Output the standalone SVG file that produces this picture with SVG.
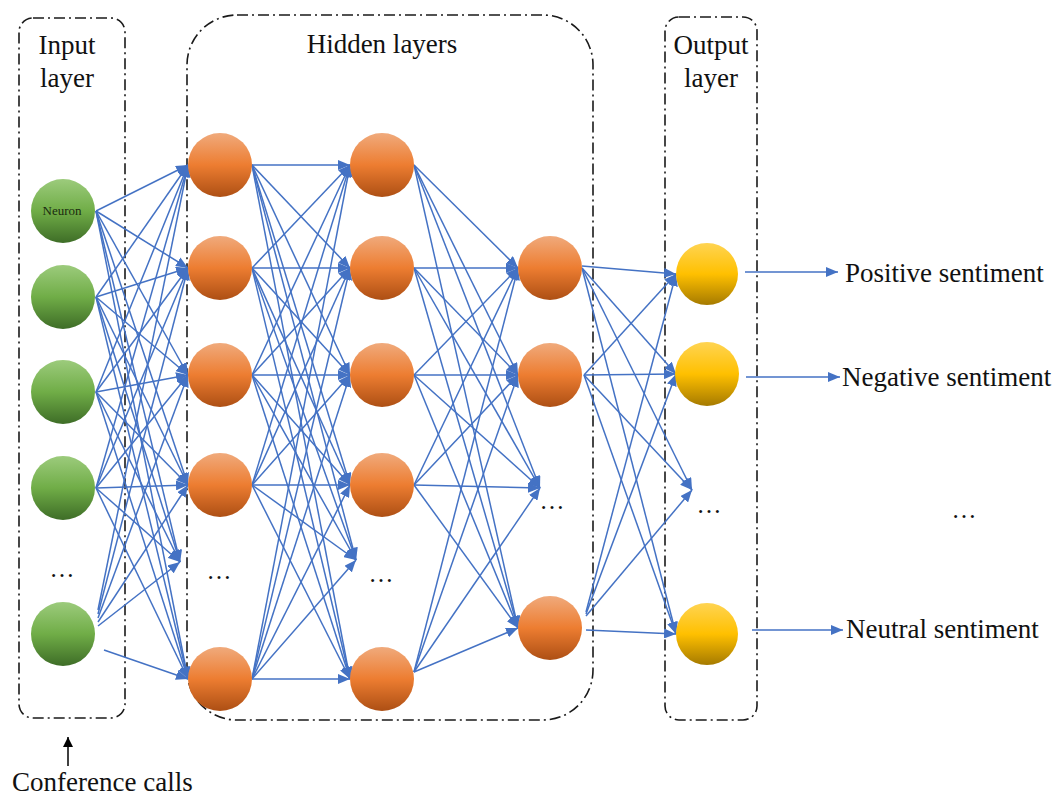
<svg xmlns="http://www.w3.org/2000/svg" width="1060" height="798" viewBox="0 0 1060 798">
  <defs>
    <linearGradient id="gGreen" x1="0" y1="0" x2="0" y2="1">
      <stop offset="0" stop-color="#9ccb7c"/>
      <stop offset="0.5" stop-color="#70ad47"/>
      <stop offset="1" stop-color="#3e6d27"/>
    </linearGradient>
    <linearGradient id="gOrange" x1="0" y1="0" x2="0" y2="1">
      <stop offset="0" stop-color="#f0aa7c"/>
      <stop offset="0.5" stop-color="#ed7d31"/>
      <stop offset="1" stop-color="#ad4f14"/>
    </linearGradient>
    <linearGradient id="gYellow" x1="0" y1="0" x2="0" y2="1">
      <stop offset="0" stop-color="#ffd452"/>
      <stop offset="0.5" stop-color="#ffc000"/>
      <stop offset="1" stop-color="#a57a00"/>
    </linearGradient>
    <marker id="arr" markerUnits="userSpaceOnUse" markerWidth="12" markerHeight="10" refX="12" refY="5" orient="auto">
      <path d="M0,0 L12,5 L0,10 z" fill="#4472c4"/>
    </marker>
    <marker id="arrK" markerUnits="userSpaceOnUse" markerWidth="10" markerHeight="10" refX="5" refY="0" orient="0">
      <path d="M0,10 L5,0 L10,10 z" fill="#000"/>
    </marker>
  </defs>
  <style>
    .box { fill: none; stroke: #1a1a1a; stroke-width: 1.6; stroke-dasharray: 11 4 2 4; }
    .lbl { font-family: "Liberation Serif", "Times New Roman", serif; font-size: 27px; fill: #111; }
    .dots { font-family: "Liberation Serif", "Times New Roman", serif; font-size: 25px; fill: #111; }
    .e { stroke: #4472c4; stroke-width: 1.5; fill: none; marker-end: url(#arr); }
    .in { fill: url(#gGreen); }
    .hid { fill: url(#gOrange); }
    .out { fill: url(#gYellow); }
  </style>

  <rect id="white" width="1060" height="798" fill="#fff"/>

  <!-- layer frames -->
  <g id="frames">
    <rect class="box" x="19" y="18" width="106" height="700" rx="14"/>
    <rect class="box" x="187" y="15" width="406" height="705" rx="50"/>
    <rect class="box" x="665" y="17" width="92" height="703" rx="14"/>
  </g>

  <!-- layer captions -->
  <g id="captions">
    <text class="lbl" x="67" y="54" text-anchor="middle">Input</text>
    <text class="lbl" x="67" y="87" text-anchor="middle">layer</text>
    <text class="lbl" x="382" y="53" text-anchor="middle">Hidden layers</text>
    <text class="lbl" x="711" y="54" text-anchor="middle">Output</text>
    <text class="lbl" x="711" y="87" text-anchor="middle">layer</text>
  </g>

  <!-- connectors -->
  <g id="connectors">
    <!-- input -> hidden 1 -->
    <line class="e" x1="96" y1="211" x2="188" y2="165"/>
    <line class="e" x1="96" y1="211" x2="188" y2="268"/>
    <line class="e" x1="96" y1="211" x2="188" y2="375"/>
    <line class="e" x1="96" y1="211" x2="188" y2="485"/>
    <line class="e" x1="96" y1="211" x2="180" y2="562"/>
    <line class="e" x1="96" y1="211" x2="188" y2="679"/>
    <line class="e" x1="96" y1="297" x2="188" y2="165"/>
    <line class="e" x1="96" y1="297" x2="188" y2="268"/>
    <line class="e" x1="96" y1="297" x2="188" y2="375"/>
    <line class="e" x1="96" y1="297" x2="188" y2="485"/>
    <line class="e" x1="96" y1="297" x2="180" y2="562"/>
    <line class="e" x1="96" y1="297" x2="188" y2="679"/>
    <line class="e" x1="96" y1="392" x2="188" y2="165"/>
    <line class="e" x1="96" y1="392" x2="188" y2="268"/>
    <line class="e" x1="96" y1="392" x2="188" y2="375"/>
    <line class="e" x1="96" y1="392" x2="188" y2="485"/>
    <line class="e" x1="96" y1="392" x2="180" y2="562"/>
    <line class="e" x1="96" y1="392" x2="188" y2="679"/>
    <line class="e" x1="96" y1="488" x2="188" y2="165"/>
    <line class="e" x1="96" y1="488" x2="188" y2="268"/>
    <line class="e" x1="96" y1="488" x2="188" y2="375"/>
    <line class="e" x1="96" y1="488" x2="188" y2="485"/>
    <line class="e" x1="96" y1="488" x2="180" y2="562"/>
    <line class="e" x1="96" y1="488" x2="188" y2="679"/>
    <line class="e" x1="98" y1="610" x2="188" y2="165"/>
    <line class="e" x1="98" y1="614" x2="188" y2="268"/>
    <line class="e" x1="98" y1="618" x2="188" y2="375"/>
    <line class="e" x1="98" y1="622" x2="188" y2="485"/>
    <line class="e" x1="98" y1="626" x2="180" y2="562"/>
    <line class="e" x1="104" y1="650" x2="188" y2="679"/>

    <!-- hidden 1 -> hidden 2 -->
    <line class="e" x1="252" y1="165" x2="350" y2="165"/>
    <line class="e" x1="252" y1="165" x2="350" y2="268"/>
    <line class="e" x1="252" y1="165" x2="350" y2="375"/>
    <line class="e" x1="252" y1="165" x2="350" y2="485"/>
    <line class="e" x1="252" y1="165" x2="356" y2="560"/>
    <line class="e" x1="252" y1="165" x2="350" y2="679"/>
    <line class="e" x1="252" y1="268" x2="350" y2="165"/>
    <line class="e" x1="252" y1="268" x2="350" y2="268"/>
    <line class="e" x1="252" y1="268" x2="350" y2="375"/>
    <line class="e" x1="252" y1="268" x2="350" y2="485"/>
    <line class="e" x1="252" y1="268" x2="356" y2="560"/>
    <line class="e" x1="252" y1="268" x2="350" y2="679"/>
    <line class="e" x1="252" y1="375" x2="350" y2="165"/>
    <line class="e" x1="252" y1="375" x2="350" y2="268"/>
    <line class="e" x1="252" y1="375" x2="350" y2="375"/>
    <line class="e" x1="252" y1="375" x2="350" y2="485"/>
    <line class="e" x1="252" y1="375" x2="356" y2="560"/>
    <line class="e" x1="252" y1="375" x2="350" y2="679"/>
    <line class="e" x1="252" y1="485" x2="350" y2="165"/>
    <line class="e" x1="252" y1="485" x2="350" y2="268"/>
    <line class="e" x1="252" y1="485" x2="350" y2="375"/>
    <line class="e" x1="252" y1="485" x2="350" y2="485"/>
    <line class="e" x1="252" y1="485" x2="356" y2="560"/>
    <line class="e" x1="252" y1="485" x2="350" y2="679"/>
    <line class="e" x1="252" y1="679" x2="350" y2="165"/>
    <line class="e" x1="252" y1="679" x2="350" y2="268"/>
    <line class="e" x1="252" y1="679" x2="350" y2="375"/>
    <line class="e" x1="252" y1="679" x2="350" y2="485"/>
    <line class="e" x1="252" y1="679" x2="356" y2="560"/>
    <line class="e" x1="252" y1="679" x2="350" y2="679"/>

    <!-- hidden 2 -> hidden 3 -->
    <line class="e" x1="414" y1="165" x2="518" y2="268"/>
    <line class="e" x1="414" y1="165" x2="518" y2="375"/>
    <line class="e" x1="414" y1="165" x2="540" y2="488"/>
    <line class="e" x1="414" y1="165" x2="518" y2="628"/>
    <line class="e" x1="414" y1="268" x2="518" y2="268"/>
    <line class="e" x1="414" y1="268" x2="518" y2="375"/>
    <line class="e" x1="414" y1="268" x2="540" y2="488"/>
    <line class="e" x1="414" y1="268" x2="518" y2="628"/>
    <line class="e" x1="414" y1="375" x2="518" y2="268"/>
    <line class="e" x1="414" y1="375" x2="518" y2="375"/>
    <line class="e" x1="414" y1="375" x2="540" y2="488"/>
    <line class="e" x1="414" y1="375" x2="518" y2="628"/>
    <line class="e" x1="414" y1="485" x2="518" y2="268"/>
    <line class="e" x1="414" y1="485" x2="518" y2="375"/>
    <line class="e" x1="414" y1="485" x2="540" y2="488"/>
    <line class="e" x1="414" y1="485" x2="518" y2="628"/>
    <line class="e" x1="414" y1="672" x2="518" y2="268"/>
    <line class="e" x1="414" y1="672" x2="518" y2="375"/>
    <line class="e" x1="414" y1="672" x2="540" y2="488"/>
    <line class="e" x1="414" y1="672" x2="518" y2="628"/>

    <!-- hidden 3 -> output -->
    <line class="e" x1="582" y1="266" x2="676" y2="274"/>
    <line class="e" x1="582" y1="268" x2="676" y2="374"/>
    <line class="e" x1="582" y1="268" x2="692" y2="490"/>
    <line class="e" x1="582" y1="268" x2="676" y2="634"/>
    <line class="e" x1="584" y1="375" x2="676" y2="274"/>
    <line class="e" x1="584" y1="375" x2="676" y2="374"/>
    <line class="e" x1="584" y1="375" x2="692" y2="490"/>
    <line class="e" x1="584" y1="375" x2="676" y2="634"/>
    <line class="e" x1="586" y1="612" x2="676" y2="274"/>
    <line class="e" x1="586" y1="614" x2="676" y2="374"/>
    <line class="e" x1="586" y1="616" x2="692" y2="490"/>
    <line class="e" x1="586" y1="630" x2="676" y2="634"/>

    <!-- output -> classes -->
    <line class="e" x1="745" y1="272" x2="838" y2="272"/>
    <line class="e" x1="746" y1="377" x2="840" y2="377"/>
    <line class="e" x1="752" y1="630" x2="843" y2="630"/>

    <!-- data source -->
    <line x1="68" y1="766" x2="68" y2="737" stroke="#000" stroke-width="1.5" marker-end="url(#arrK)"/>
  </g>

  <!-- input layer -->
  <g id="input-nodes">
    <g id="in-1"><circle class="in" cx="63" cy="211" r="32"/>
      <text x="62" y="215" text-anchor="middle" font-family="Liberation Serif, serif" font-size="13" fill="#1a2a10">Neuron</text></g>
    <g id="in-2"><circle class="in" cx="63" cy="297" r="32"/></g>
    <g id="in-3"><circle class="in" cx="63" cy="392" r="32"/></g>
    <g id="in-4"><circle class="in" cx="63" cy="488" r="32"/></g>
    <g id="in-more"><text class="dots" x="62" y="577" text-anchor="middle">…</text></g>
    <g id="in-5"><circle class="in" cx="63" cy="634" r="32"/></g>
  </g>

  <!-- hidden layer 1 -->
  <g id="hidden1-nodes">
    <g id="h1-1"><circle class="hid" cx="220" cy="165" r="32"/></g>
    <g id="h1-2"><circle class="hid" cx="220" cy="268" r="32"/></g>
    <g id="h1-3"><circle class="hid" cx="220" cy="375" r="32"/></g>
    <g id="h1-4"><circle class="hid" cx="220" cy="485" r="32"/></g>
    <g id="h1-more"><text class="dots" x="219" y="579" text-anchor="middle">…</text></g>
    <g id="h1-5"><circle class="hid" cx="220" cy="679" r="32"/></g>
  </g>

  <!-- hidden layer 2 -->
  <g id="hidden2-nodes">
    <g id="h2-1"><circle class="hid" cx="382" cy="165" r="32"/></g>
    <g id="h2-2"><circle class="hid" cx="382" cy="268" r="32"/></g>
    <g id="h2-3"><circle class="hid" cx="382" cy="375" r="32"/></g>
    <g id="h2-4"><circle class="hid" cx="382" cy="485" r="32"/></g>
    <g id="h2-more"><text class="dots" x="381" y="582" text-anchor="middle">…</text></g>
    <g id="h2-5"><circle class="hid" cx="382" cy="679" r="32"/></g>
  </g>

  <!-- hidden layer 3 -->
  <g id="hidden3-nodes">
    <g id="h3-1"><circle class="hid" cx="550" cy="268" r="32"/></g>
    <g id="h3-2"><circle class="hid" cx="550" cy="375" r="32"/></g>
    <g id="h3-more"><text class="dots" x="552" y="509" text-anchor="middle">…</text></g>
    <g id="h3-3"><circle class="hid" cx="550" cy="628" r="32"/></g>
  </g>

  <!-- output layer -->
  <g id="output-nodes">
    <g id="out-1"><circle class="out" cx="707" cy="274" r="31"/></g>
    <g id="out-2"><circle class="out" cx="707" cy="374" r="32"/></g>
    <g id="out-more"><text class="dots" x="709" y="513" text-anchor="middle">…</text></g>
    <g id="out-3"><circle class="out" cx="707" cy="634" r="31"/></g>
  </g>

  <!-- class labels -->
  <g id="classes">
    <text class="lbl" x="845" y="282">Positive sentiment</text>
    <text class="lbl" x="842" y="386">Negative sentiment</text>
    <text class="dots" x="964" y="518" text-anchor="middle">…</text>
    <text class="lbl" x="846" y="638">Neutral sentiment</text>
  </g>

  <g id="source">
    <text class="lbl" x="12" y="791">Conference calls</text>
  </g>
</svg>
